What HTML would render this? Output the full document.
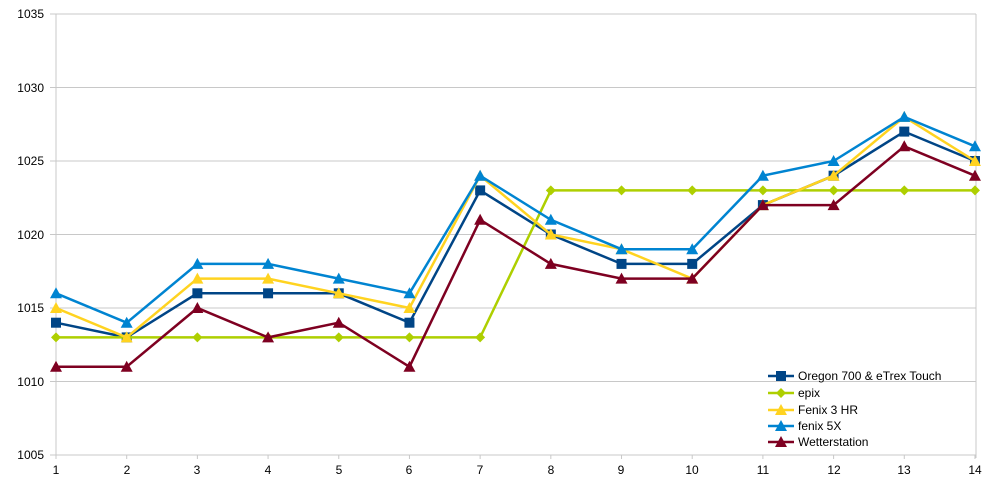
<!DOCTYPE html>
<html><head><meta charset="utf-8"><style>
body{margin:0;background:#fff}
svg text{font-family:"Liberation Sans",sans-serif;font-size:12px;fill:#000}
</style></head><body>
<svg id="s" width="1000" height="478" xmlns="http://www.w3.org/2000/svg">
<g stroke="#c8c8c8" stroke-width="1" id="grid"></g>
<g text-anchor="end">
<text x="44" y="18">1035</text><text x="44" y="92">1030</text><text x="44" y="165">1025</text>
<text x="44" y="239">1020</text><text x="44" y="312">1015</text><text x="44" y="386">1010</text><text x="44" y="459">1005</text>
</g>
<g text-anchor="middle" id="xl">
<text x="56" y="474">1</text><text x="127" y="474">2</text><text x="197" y="474">3</text><text x="268" y="474">4</text>
<text x="339" y="474">5</text><text x="409" y="474">6</text><text x="480" y="474">7</text><text x="551" y="474">8</text>
<text x="621" y="474">9</text><text x="692" y="474">10</text><text x="763" y="474">11</text><text x="834" y="474">12</text>
<text x="904" y="474">13</text><text x="975" y="474">14</text>
</g>
<g id="series"></g>
<g id="leg"></g>
<g>
<text x="798" y="380">Oregon 700 &amp; eTrex Touch</text>
<text x="798" y="397">epix</text>
<text x="798" y="414">Fenix 3 HR</text>
<text x="798" y="430">fenix 5X</text>
<text x="798" y="446">Wetterstation</text>
</g>
</svg>
<script>
const NS="http://www.w3.org/2000/svg";
const X=i=>56+i*70.69, Y=v=>455-(v-1005)*14.7;
function el(p,t,a){const e=document.createElementNS(NS,t);for(const k in a)e.setAttribute(k,a[k]);p.appendChild(e);return e;}
const g=document.getElementById('grid');
for(let v=1005;v<=1035;v+=5){el(g,'line',{x1:50,x2:976,y1:Y(v),y2:Y(v)});}
el(g,'line',{x1:56,x2:56,y1:14,y2:458});el(g,'line',{x1:976,x2:976,y1:14,y2:458});
for(let i=0;i<14;i++)el(g,'line',{x1:X(i),x2:X(i),y1:455,y2:459});
const S=[
['#004586','sq',[1014,1013,1016,1016,1016,1014,1023,1020,1018,1018,1022,1024,1027,1025]],
['#aecf00','di',[1013,1013,1013,1013,1013,1013,1013,1023,1023,1023,1023,1023,1023,1023]],
['#ffd320','tr',[1015,1013,1017,1017,1016,1015,1024,1020,1019,1017,1022,1024,1028,1025]],
['#0084d1','tr',[1016,1014,1018,1018,1017,1016,1024,1021,1019,1019,1024,1025,1028,1026]],
['#7e0021','tr',[1011,1011,1015,1013,1014,1011,1021,1018,1017,1017,1022,1022,1026,1024]]];
function mk(p,sh,x,y,c){
 if(sh=='sq')el(p,'rect',{x:x-5,y:y-5,width:10,height:10,fill:c});
 else if(sh=='di')el(p,'polygon',{points:`${x},${y-5} ${x+5},${y} ${x},${y+5} ${x-5},${y}`,fill:c});
 else el(p,'polygon',{points:`${x},${y-6} ${x+6},${y+5} ${x-6},${y+5}`,fill:c});
}
const sg=document.getElementById('series'),lg=document.getElementById('leg');
S.forEach(([c,sh,d],k)=>{
 el(sg,'polyline',{points:d.map((v,i)=>X(i)+','+Y(v)).join(' '),fill:'none',stroke:c,'stroke-width':2.5});
 d.forEach((v,i)=>mk(sg,sh,X(i),Y(v),c));
 const ly=[376,393,410,426,442][k];
 el(lg,'line',{x1:768,x2:794,y1:ly,y2:ly,stroke:c,'stroke-width':2.5});
 mk(lg,sh,781,ly,c);
});
</script>
</body></html>
